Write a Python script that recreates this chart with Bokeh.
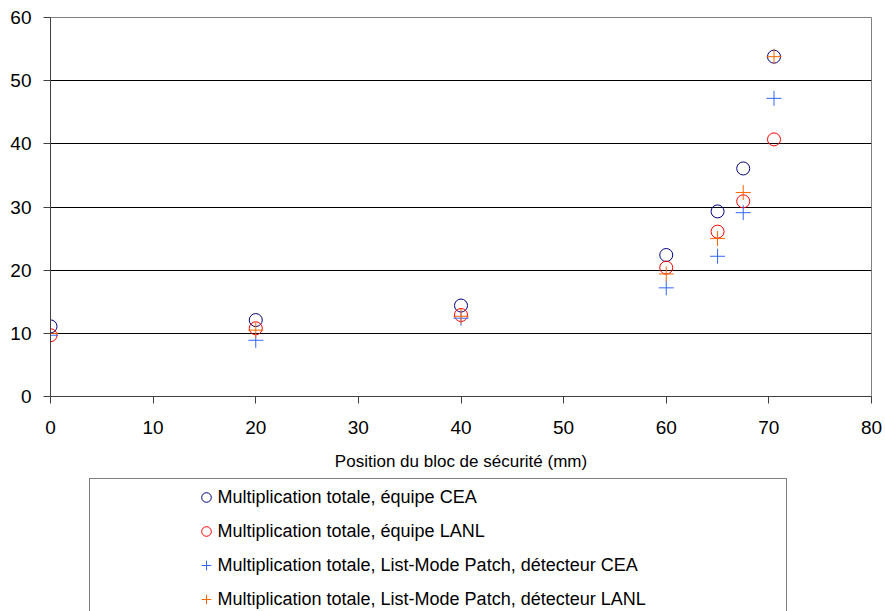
from bokeh.plotting import figure
from bokeh.layouts import column
from bokeh.models import Legend, LegendItem, ColumnDataSource, FixedTicker
from bokeh.embed import file_html
from bokeh.resources import INLINE

# Data
positions = [0, 20, 40, 60, 65, 67.5, 70.5]
cea_team = [11.1, 12.1, 14.4, 22.4, 29.3, 36.1, 53.8]
lanl_team = [9.7, 10.8, 12.9, 20.4, 26.1, 30.9, 40.7]
lmp_cea = [9.7, 8.9, 12.4, 17.2, 22.2, 29.1, 47.2]
lmp_lanl = [10.0, 10.5, 12.7, 19.4, 25.0, 32.3, 53.8]

labels = [
    "Multiplication totale, équipe CEA",
    "Multiplication totale, équipe LANL",
    "Multiplication totale, List-Mode Patch, détecteur CEA",
    "Multiplication totale, List-Mode Patch, détecteur LANL",
]
x_label = "Position du bloc de sécurité (mm)"
x_ticks = [0, 10, 20, 30, 40, 50, 60, 70, 80]
y_ticks = [0, 10, 20, 30, 40, 50, 60]

FONT = "Liberation Sans"
styles = [
    dict(marker="circle", size=13, fill_color=None, line_color="#000080", line_width=1),
    dict(marker="circle", size=13, fill_color=None, line_color="#ff0000", line_width=1),
    dict(marker="cross", size=15, line_color="#3366ff", line_width=1),
    dict(marker="cross", size=15, line_color="#ff6600", line_width=1),
]
cols = ["a", "b", "c", "d"]

p = figure(width=885, height=476, output_backend="svg", toolbar_location=None,
           x_range=(0, 80), y_range=(0, 60),
           min_border_left=50, min_border_right=14, min_border_top=17, min_border_bottom=80)
p.background_fill_color = "white"
p.border_fill_color = "white"
p.outline_line_color = "#808080"
p.outline_line_width = 1

src = ColumnDataSource(dict(x=positions, a=cea_team, b=lanl_team, c=lmp_cea, d=lmp_lanl))
for col, st in zip(cols, styles):
    p.scatter("x", col, source=src, **st)

# Axes
p.xaxis.ticker = FixedTicker(ticks=x_ticks)
p.yaxis.ticker = FixedTicker(ticks=y_ticks)
for ax in (p.xaxis[0], p.yaxis[0]):
    ax.axis_line_color = "#404040"
    ax.major_tick_line_color = "#404040"
    ax.major_tick_out = 7
    ax.major_tick_in = 0
    ax.minor_tick_line_color = None
    ax.major_label_text_font = FONT
    ax.major_label_text_font_size = "19px"
    ax.major_label_text_color = "black"
p.yaxis.major_label_standoff = 12
p.xaxis.major_label_standoff = 17
p.xaxis.axis_label = x_label
p.xaxis.axis_label_text_font = FONT
p.xaxis.axis_label_text_font_size = "17px"
p.xaxis.axis_label_text_font_style = "normal"
p.xaxis.axis_label_text_color = "black"
p.xaxis.axis_label_standoff = 15

p.xgrid.grid_line_color = None
p.ygrid.grid_line_color = "black"
p.ygrid.grid_line_width = 1

# Legend panel below the chart (its points fall outside its own ranges;
# only the legend entries are visible)
lg = figure(width=885, height=135, output_backend="svg", toolbar_location=None,
            x_range=(-2, -1), y_range=(-2, -1), x_axis_location=None, y_axis_location=None,
            min_border=0, min_border_left=0, min_border_right=0,
            min_border_top=0, min_border_bottom=0)
lg.outline_line_color = None
lg.xgrid.grid_line_color = None
lg.ygrid.grid_line_color = None
lrs = [lg.scatter("x", col, source=src, **st) for col, st in zip(cols, styles)]

legend = Legend(
    items=[LegendItem(label=lab, renderers=[r]) for lab, r in zip(labels, lrs)],
    location=(38.5, -7), orientation="vertical",
    border_line_color="black", border_line_width=1,
    background_fill_color="white", background_fill_alpha=1,
    padding=3, spacing=4, margin=0,
    glyph_width=24, glyph_height=30, label_height=30, label_standoff=0,
    label_width=565,
    label_text_font=FONT, label_text_font_size="18px", label_text_color="black",
    title=" ", title_location="left", title_standoff=90,
    title_text_font_size="10px",
)
lg.add_layout(legend, "center")

open("out.html", "w").write(file_html(column(p, lg, spacing=0), INLINE))
